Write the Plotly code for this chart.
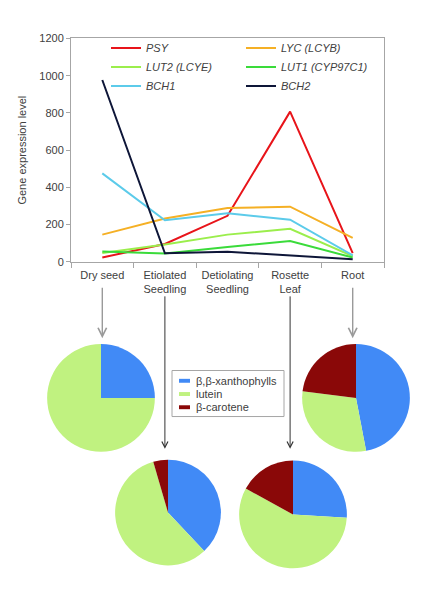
import plotly.graph_objects as go

# page body has an 8px margin: figure is shrunk and all reference pixel
# positions are shifted by OFF
OFF = 8
W, H = 436 - 2 * OFF, 599 - 2 * OFF

# ---- data ----
categories = ["Dry seed", "Etiolated<br>Seedling", "Detiolating<br>Seedling", "Rosette<br>Leaf", "Root"]
genes = ["PSY", "LYC (LCYB)", "LUT2 (LCYE)", "LUT1 (CYP97C1)", "BCH1", "BCH2"]
psy = [23, 96, 247, 807, 47]
lyc = [146, 233, 289, 296, 128]
lut2 = [47, 93, 146, 177, 30]
lut1 = [55, 44, 79, 112, 23]
bch1 = [475, 223, 261, 226, 35]
bch2 = [977, 46, 54, 32, 14]
y_ticks = [0, 200, 400, 600, 800, 1000, 1200]

pigments = ["β,β-xanthophylls", "lutein", "β-carotene"]
pie_dry_seed = [25, 75, 0]
pie_etiolated = [38, 57.5, 4.5]
pie_rosette = [26, 57, 17]
pie_root = [47, 30, 23]

# ---- styles ----
gene_colors = ["#E8141A", "#F5B025", "#9BEE4C", "#3ADB3A", "#5CCBEA", "#0E1638"]
gene_legend = ["legend", "legend2", "legend", "legend2", "legend", "legend2"]
pig_colors = ["#418AF6", "#C0F280", "#8A0808"]
FONT = "Liberation Sans, Arial, sans-serif"
TXT = "#404040"
axis_col = "#A6A6A6"

def px_x(p):
    return (p - OFF) / W

def px_y(p):
    return 1 - (p - OFF) / H

fig = go.Figure()

series = [psy, lyc, lut2, lut1, bch1, bch2]
for name, vals, col, lg in zip(genes, series, gene_colors, gene_legend):
    fig.add_trace(go.Scatter(
        x=categories, y=vals, mode="lines", name=name,
        line=dict(color=col, width=2), legend=lg,
    ))

def pie_domain(cx, cy, r):
    return dict(x=[px_x(cx - r), px_x(cx + r)], y=[px_y(cy + r), px_y(cy - r)])

pies = [
    (pie_dry_seed, (101, 400, 55)),
    (pie_etiolated, (168, 517, 54)),
    (pie_rosette, (293, 519, 55)),
    (pie_root, (356, 400, 55)),
]
for vals, (cx, cy, r) in pies:
    fig.add_trace(go.Pie(
        labels=pigments, values=vals, sort=False, direction="clockwise",
        rotation=0, textinfo="none", hoverinfo="label+percent",
        marker=dict(colors=pig_colors, line=dict(width=0)),
        domain=pie_domain(cx, cy, r), showlegend=False,
    ))

# arrows from category labels to pies
arrows = [
    (categories[0], 287, 339, "#9A9A9A", 1.4),
    (categories[1], 298, 452, "#333333", 1.0),
    (categories[3], 298, 452, "#333333", 1.0),
    (categories[4], 287, 339, "#9A9A9A", 1.4),
]
for cat, y0, y1, col, w in arrows:
    fig.add_annotation(
        x=cat, xref="x", y=px_y(y1), yref="paper",
        ax=0, ay=-(y1 - y0), axref="pixel", ayref="pixel",
        showarrow=True, arrowhead=5, arrowsize=1.2, arrowwidth=w,
        arrowcolor=col, text="",
    )

# pigment key (boxed legend between the pies)
fig.add_shape(type="rect", xref="paper", yref="paper",
              x0=px_x(172), x1=px_x(284), y0=px_y(419), y1=px_y(372),
              line=dict(color=axis_col, width=1), fillcolor="white", layer="above")
for i, (lab, col) in enumerate(zip(pigments, pig_colors)):
    yc = 382.5 + i * 13.5
    fig.add_shape(type="rect", xref="paper", yref="paper",
                  x0=px_x(179), x1=px_x(190), y0=px_y(yc + 2), y1=px_y(yc - 2),
                  line=dict(width=0), fillcolor=col, layer="above")
    fig.add_annotation(x=px_x(194), y=px_y(yc), xref="paper", yref="paper",
                       xanchor="left", yanchor="middle", showarrow=False,
                       text=lab, font=dict(size=11, color=TXT))

fig.update_layout(
    width=W, height=H,
    margin=dict(l=0, r=0, t=0, b=0),
    paper_bgcolor="white", plot_bgcolor="white",
    font=dict(family=FONT, size=11, color=TXT),
    xaxis=dict(
        domain=[px_x(71), px_x(384)], type="category",
        range=[-0.5, 4.5], showline=True, linecolor=axis_col, linewidth=1,
        mirror=True, ticks="outside", tickson="boundaries", ticklen=5,
        tickcolor=axis_col, showgrid=False, zeroline=False,
        tickfont=dict(size=11, color=TXT), ticklabelstandoff=3,
    ),
    yaxis=dict(
        domain=[px_y(261), px_y(33)], range=[0, 1200], tickvals=y_ticks,
        showline=True, linecolor=axis_col, linewidth=1, mirror=True,
        ticks="outside", ticklen=4, tickcolor=axis_col, showgrid=False,
        zeroline=False, tickfont=dict(size=11, color=TXT),
        title=dict(text="Gene expression level", font=dict(size=11, color=TXT), standoff=10),
    ),
    legend=dict(
        x=px_x(106), y=px_y(28), xanchor="left", yanchor="top",
        bgcolor="rgba(0,0,0,0)", font=dict(size=11, style="italic", color=TXT),
        tracegroupgap=0, itemwidth=30,
    ),
    legend2=dict(
        x=px_x(241), y=px_y(28), xanchor="left", yanchor="top",
        bgcolor="rgba(0,0,0,0)", font=dict(size=11, style="italic", color=TXT),
        tracegroupgap=0, itemwidth=30,
    ),
)

fig.write_html("out.html")
